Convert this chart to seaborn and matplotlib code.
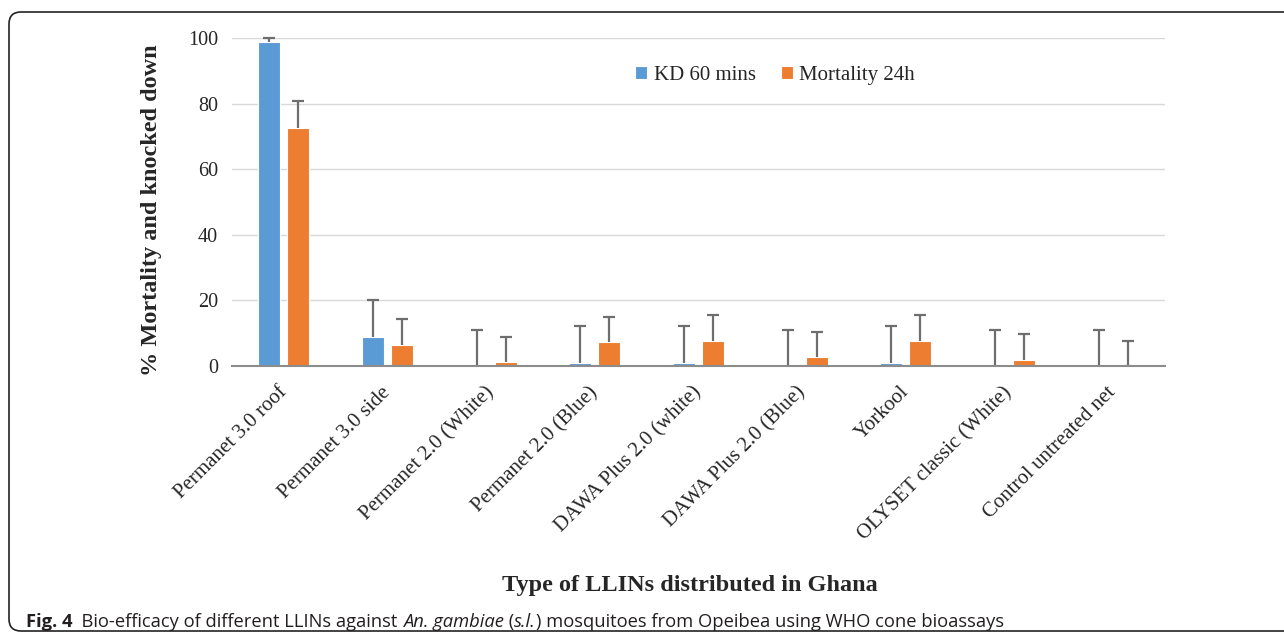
import matplotlib
matplotlib.use("Agg")
import matplotlib.pyplot as plt
import seaborn as sns
import pandas as pd
import numpy as np
from matplotlib.patches import FancyBboxPatch

categories = ["Permanet 3.0 roof", "Permanet 3.0 side", "Permanet 2.0 (White)",
              "Permanet 2.0 (Blue)", "DAWA Plus 2.0 (white)", "DAWA Plus 2.0 (Blue)",
              "Yorkool", "OLYSET classic (White)", "Control untreated net"]
kd_60 = [98.7, 8.8, 0.0, 1.0, 1.0, 0.0, 1.0, 0.0, 0.0]
kd_60_upper = [100.0, 20.0, 11.0, 12.2, 12.2, 11.0, 12.2, 11.0, 11.0]
mort_24 = [72.6, 6.4, 1.2, 7.3, 7.6, 2.6, 7.6, 1.8, 0.0]
mort_24_upper = [80.8, 14.3, 8.8, 15.0, 15.5, 10.5, 15.5, 9.8, 7.5]
series = ["KD 60 mins", "Mortality 24h"]
colors = ["#5B9BD5", "#ED7D31"]
yticks = [0, 20, 40, 60, 80, 100]

df = pd.DataFrame({
    "cat": categories * 2,
    "val": kd_60 + mort_24,
    "series": [series[0]] * len(categories) + [series[1]] * len(categories),
})

sns.set_theme(style="white")
plt.rcParams['font.family'] = ['Liberation Serif', 'DejaVu Serif']

fig = plt.figure(figsize=(12.84, 6.36), dpi=100)
ax = fig.add_axes([232/1284, 1-366/636, (1165-232)/1284, (366-38)/636])

sns.barplot(data=df, x="cat", y="val", hue="series", palette=colors, saturation=1,
            width=0.56, gap=0.24, ax=ax, edgecolor="white", linewidth=0.8,
            errorbar=None, legend=True)

uppers = [kd_60_upper, mort_24_upper]
vals = [kd_60, mort_24]
for cont, up, v in zip(ax.containers, uppers, vals):
    xs = [p.get_x() + p.get_width()/2 for p in cont.patches]
    yerr = np.array([np.zeros(len(v)), np.array(up) - np.array(v)])
    eb = ax.errorbar(xs, v, yerr=yerr, fmt="none", ecolor="#6e6e6e", elinewidth=1.6,
                     capsize=4.5, capthick=1.6, clip_on=False, zorder=3)
    eb[1][0].set_visible(False)

ax.set_ylim(0, 100)
ax.set_xlim(-0.5, len(categories) - 0.5)
ax.set_yticks(yticks)
ax.set_yticklabels([str(t) for t in yticks], fontsize=14.5)
ax.yaxis.grid(True, color="#d9d9d9", linewidth=1.0)
ax.set_axisbelow(True)
for s in ["top", "right", "left"]:
    ax.spines[s].set_visible(False)
ax.spines["bottom"].set_color("#8c8c8c")
ax.spines["bottom"].set_linewidth(1.5)
ax.spines["bottom"].set_zorder(4)
ax.tick_params(axis="y", length=0, pad=10)
ax.tick_params(axis="x", length=0, pad=17)
ax.set_xticks(range(len(categories)))
ax.set_xticklabels(categories, rotation=45, ha="right", va="center",
                   rotation_mode="anchor", fontsize=15)
ax.set_xlabel("")
ax.set_ylabel("% Mortality and knocked down", fontsize=17.5, fontweight="bold")
ax.yaxis.set_label_coords(-0.075, 0.476)

leg = ax.legend(loc="center", bbox_to_anchor=(0.582, 0.887), ncol=2, frameon=False,
                fontsize=15, handlelength=0.6, handleheight=0.6,
                columnspacing=1.2, handletextpad=0.3)

fig.text(690/1284, 1-585/636, "Type of LLINs distributed in Ghana", ha="center",
         va="center", fontsize=17.5, fontweight="bold")

# frame
frame = FancyBboxPatch((0.09, 0.05), 13.0, 6.19,
                       boxstyle="round,pad=0,rounding_size=0.12",
                       transform=fig.dpi_scale_trans, fill=False,
                       edgecolor="#222222", linewidth=1.2)
fig.patches.append(frame)

# caption
fig.canvas.draw()
renderer = fig.canvas.get_renderer()
cap_font = ['Open Sans', 'DejaVu Sans']
pieces = [("Fig. 4", "bold", "normal"),
          ("  Bio-efficacy of different LLINs against ", "normal", "normal"),
          ("An. gambiae", "normal", "italic"),
          (" (", "normal", "normal"),
          ("s.l.", "normal", "italic"),
          (") mosquitoes from Opeibea using WHO cone bioassays", "normal", "normal")]
x = 26 / 1284
ybase = 1 - 627/636
for txt, w, st in pieces:
    t = fig.text(x, ybase, txt, ha="left", va="baseline", fontsize=13.25,
                 fontweight=w, fontstyle=st, family=cap_font, color="#231f20")
    bb = t.get_window_extent(renderer=renderer)
    x = (bb.x1) / fig.bbox.width

fig.savefig("out.png", dpi=100)
